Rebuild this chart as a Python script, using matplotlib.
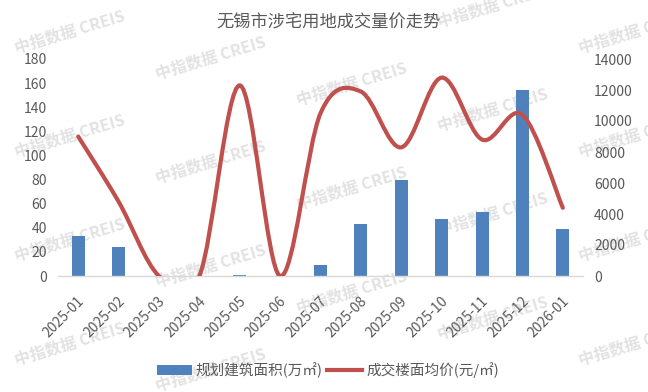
import numpy as np
import matplotlib
matplotlib.use("Agg")
import matplotlib.pyplot as plt
import matplotlib.transforms as mtransforms
from matplotlib.path import Path
from matplotlib.patches import PathPatch, Patch
from matplotlib.lines import Line2D

plt.rcParams['font.family'] = ['Noto Sans CJK SC', 'DejaVu Sans']

# Data
months = ['2025-01', '2025-02', '2025-03', '2025-04', '2025-05', '2025-06', '2025-07',
          '2025-08', '2025-09', '2025-10', '2025-11', '2025-12', '2026-01']
area = [33, 24, 0, 0, 1, 0, 9, 43, 80, 47, 53, 154, 39]            # 万㎡
price = [9000, 4800, 0, 0, 12300, 0, 10500, 11900, 8300, 12800, 8800, 10400, 4400]  # 元/㎡

TITLE = '无锡市涉宅用地成交量价走势'
AREA_LABEL = '规划建筑面积(万㎡)'
PRICE_LABEL = '成交楼面均价(元/㎡)'
WATERMARK = '中指数据 CREIS'

BLUE = '#4F81BD'
RED = '#C0504D'
TEXT = '#595959'


def smooth_path(x, y):
    """Excel-like smoothed line as cubic Bezier segments (Catmull-Rom)"""
    n = len(x)
    verts = [(x[0], y[0])]
    codes = [Path.MOVETO]
    for i in range(n - 1):
        a = max(i - 1, 0)
        b = min(i + 2, n - 1)
        c1 = (x[i] + (x[i + 1] - x[a]) / 6, y[i] + (y[i + 1] - y[a]) / 6)
        c2 = (x[i + 1] - (x[b] - x[i]) / 6, y[i + 1] - (y[b] - y[i]) / 6)
        verts += [c1, c2, (x[i + 1], y[i + 1])]
        codes += [Path.CURVE4] * 3
    return Path(verts, codes)


def add_watermarks(fig):
    # faint tiled watermark behind the plot
    W, H = 648, 392
    for i in range(5):
        cx = 70 + 141 * i
        y0 = (32 + 26 * i) % 104
        for k in range(5):
            cy = y0 + 104 * k
            if cy > H - 10:
                continue
            fig.text(cx / W, 1 - cy / H, WATERMARK, rotation=17,
                     ha='center', va='center', fontsize=11.5, fontweight='bold',
                     color='#e2e2e2', zorder=-1)


def main():
    fig = plt.figure(figsize=(6.48, 3.92), dpi=100)
    ax = fig.add_axes([58 / 648, 116 / 392, 525 / 648, 217 / 392])
    ax.patch.set_visible(False)
    ax2 = ax.twinx()

    x = np.arange(len(months))
    ax.bar(x, area, width=0.32, color=BLUE, zorder=2)

    path = smooth_path(x.astype(float), np.array(price, dtype=float))
    ax2.add_patch(PathPatch(path, fill=False, edgecolor=RED, lw=3,
                            capstyle='round', joinstyle='round'))

    ax.set_xlim(-0.5, len(months) - 0.5)
    ax.set_ylim(0, 180)
    ax.set_yticks(np.arange(0, 181, 20))
    ax2.set_ylim(0, 14000)
    ax2.set_yticks(np.arange(0, 14001, 2000))

    for a in (ax, ax2):
        for s in a.spines.values():
            s.set_visible(False)
    ax.spines['bottom'].set_visible(True)
    ax.spines['bottom'].set_color('#d9d9d9')
    ax.spines['bottom'].set_linewidth(1)

    ax.tick_params(axis='y', length=0, pad=8, labelsize=10, labelcolor=TEXT)
    ax2.tick_params(axis='y', length=0, pad=8, labelsize=10, labelcolor=TEXT)
    ax.tick_params(axis='x', length=0, pad=0, labelsize=10, labelcolor=TEXT)

    ax.set_xticks(x)
    ax.set_xticklabels(months, rotation=45, ha='right', va='center',
                       rotation_mode='anchor')
    offset = mtransforms.ScaledTranslation(4 / 100, -23 / 100, fig.dpi_scale_trans)
    for lbl in ax.get_xticklabels():
        lbl.set_transform(lbl.get_transform() + offset)

    fig.text(328 / 648, 1 - 23 / 392, TITLE, ha='center', va='center',
             fontsize=12.4, color=TEXT)

    handles = [Patch(facecolor=BLUE, edgecolor='none'),
               Line2D([], [], color=RED, lw=3)]
    fig.legend(handles, [AREA_LABEL, PRICE_LABEL], loc='center',
               bbox_to_anchor=(328 / 648, 1 - 370 / 392), ncol=2, frameon=False,
               fontsize=10.5, labelcolor=TEXT, handlelength=2.4,
               handletextpad=0.3, columnspacing=0.3)

    add_watermarks(fig)

    fig.savefig('out.png', dpi=100)
    plt.close(fig)


if __name__ == "__main__":
    main()
